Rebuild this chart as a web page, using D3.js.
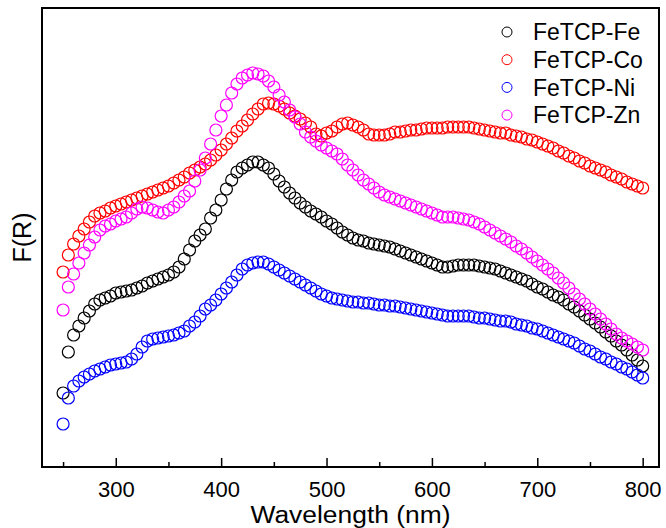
<!DOCTYPE html>
<html>
<head>
<meta charset="utf-8">
<script src="https://cdn.jsdelivr.net/npm/d3@7/dist/d3.min.js"></script>
<style>
  body { margin: 0; background: #fff; }
  text { font-family: "Liberation Sans", Arial, sans-serif; fill: #000; }
</style>
</head>
<body>
<div id="vis"></div>
<script>
// Data (F(R) in arbitrary units)
const WAVELENGTH = [250,255,260,265,270,275,280,285,290,295,300,305,310,315,320,325,330,335,340,345,
  350,355,360,365,370,375,380,385,390,395,400,405,410,415,420,425,430,435,440,445,
  450,455,460,465,470,475,480,485,490,495,500,505,510,515,520,525,530,535,540,545,
  550,555,560,565,570,575,580,585,590,595,600,605,610,615,620,625,630,635,640,645,
  650,655,660,665,670,675,680,685,690,695,700,705,710,715,720,725,730,735,740,745,
  750,755,760,765,770,775,780,785,790,795,800];

const FR_FE = [0.74,1.15,1.32,1.41,1.49,1.56,1.63,1.67,1.69,1.71,1.74,1.75,1.76,1.77,1.79,1.81,1.84,1.86,1.88,1.90,
  1.92,1.95,2.00,2.08,2.17,2.26,2.32,2.38,2.49,2.57,2.67,2.78,2.87,2.95,2.99,3.02,3.05,3.05,3.02,2.99,
  2.93,2.86,2.80,2.74,2.69,2.64,2.60,2.56,2.53,2.50,2.46,2.43,2.39,2.35,2.32,2.29,2.27,2.26,2.24,2.23,
  2.22,2.21,2.20,2.18,2.16,2.14,2.12,2.10,2.08,2.06,2.04,2.02,2.00,2.00,2.01,2.02,2.02,2.02,2.02,2.01,
  2.00,1.99,1.98,1.96,1.94,1.92,1.90,1.88,1.86,1.83,1.80,1.78,1.75,1.72,1.70,1.67,1.63,1.60,1.56,1.52,
  1.48,1.44,1.40,1.35,1.31,1.26,1.22,1.17,1.12,1.07,1.01];

const FR_CO = [1.95,2.12,2.23,2.31,2.38,2.45,2.51,2.54,2.56,2.59,2.61,2.63,2.65,2.67,2.69,2.71,2.73,2.75,2.77,2.79,
  2.81,2.84,2.87,2.90,2.94,2.97,3.00,3.03,3.07,3.12,3.17,3.23,3.29,3.36,3.41,3.47,3.53,3.58,3.63,3.64,
  3.63,3.61,3.58,3.54,3.51,3.48,3.44,3.40,3.33,3.31,3.34,3.36,3.40,3.43,3.44,3.42,3.40,3.37,3.33,3.32,
  3.32,3.32,3.33,3.35,3.35,3.36,3.37,3.37,3.38,3.39,3.39,3.39,3.39,3.40,3.40,3.40,3.40,3.40,3.39,3.38,
  3.37,3.36,3.35,3.34,3.34,3.32,3.31,3.30,3.28,3.27,3.25,3.23,3.21,3.19,3.16,3.14,3.11,3.09,3.06,3.04,
  3.01,2.99,2.97,2.95,2.92,2.90,2.88,2.85,2.83,2.81,2.79];

const FR_NI = [0.43,0.69,0.81,0.86,0.90,0.93,0.96,0.98,1.00,1.02,1.03,1.04,1.05,1.08,1.13,1.20,1.26,1.28,1.29,1.30,
  1.31,1.32,1.34,1.36,1.41,1.45,1.51,1.58,1.62,1.67,1.73,1.79,1.85,1.92,1.98,2.02,2.04,2.05,2.05,2.03,
  2.00,1.97,1.94,1.91,1.88,1.85,1.82,1.79,1.76,1.73,1.71,1.69,1.68,1.67,1.66,1.65,1.65,1.64,1.64,1.63,
  1.62,1.62,1.61,1.61,1.60,1.59,1.58,1.57,1.56,1.55,1.54,1.53,1.52,1.51,1.51,1.51,1.51,1.51,1.50,1.49,
  1.49,1.48,1.47,1.46,1.46,1.45,1.43,1.42,1.41,1.39,1.38,1.36,1.34,1.32,1.30,1.28,1.26,1.24,1.21,1.18,
  1.16,1.13,1.10,1.08,1.05,1.03,1.00,0.98,0.95,0.92,0.89];

const FR_ZN = [1.57,1.80,1.93,2.04,2.14,2.22,2.30,2.37,2.41,2.43,2.46,2.48,2.50,2.54,2.58,2.60,2.59,2.57,2.55,2.54,
  2.57,2.60,2.65,2.71,2.76,2.86,2.97,3.09,3.23,3.37,3.51,3.62,3.74,3.83,3.89,3.92,3.94,3.93,3.91,3.86,
  3.80,3.72,3.65,3.57,3.50,3.43,3.35,3.30,3.26,3.22,3.19,3.16,3.13,3.08,3.02,2.97,2.92,2.87,2.83,2.79,
  2.75,2.72,2.70,2.68,2.66,2.64,2.62,2.60,2.58,2.56,2.54,2.52,2.50,2.50,2.50,2.49,2.48,2.47,2.45,2.43,
  2.40,2.37,2.34,2.31,2.28,2.25,2.21,2.18,2.14,2.10,2.06,2.02,1.98,1.94,1.89,1.84,1.79,1.73,1.68,1.63,
  1.58,1.53,1.48,1.43,1.38,1.33,1.29,1.26,1.23,1.20,1.17];

const SERIES_NAMES = ["FeTCP-Fe", "FeTCP-Co", "FeTCP-Ni", "FeTCP-Zn"];
const SERIES_COLORS = ["#000000", "#ff0000", "#0000ff", "#ff00ff"];
const MAJOR_TICKS = [300, 400, 500, 600, 700, 800];
const MINOR_TICKS = [250, 350, 450, 550, 650, 750];

// Frame
const FRAME_WIDTH = 666;
const FRAME_HEIGHT = 528;
const MARGINS = { left: 42, right: 7, top: 8, bottom: 61 };
const VIS_WIDTH = FRAME_WIDTH - MARGINS.left - MARGINS.right;
const VIS_HEIGHT = FRAME_HEIGHT - MARGINS.top - MARGINS.bottom;

const FRAME = d3.select("#vis")
    .append("svg")
    .attr("width", FRAME_WIDTH)
    .attr("height", FRAME_HEIGHT);

const PLOT = FRAME.append("g")
    .attr("transform", "translate(" + MARGINS.left + "," + MARGINS.top + ")");

const X_SCALE = d3.scaleLinear()
    .domain([230, 815.5])
    .range([0, VIS_WIDTH]);

const Y_SCALE = d3.scaleLinear()
    .domain([0, 4.59])
    .range([VIS_HEIGHT, 0]);

// one entry per series
const ALL_SERIES = [FR_FE, FR_CO, FR_NI, FR_ZN].map((vals, i) => ({
    name: SERIES_NAMES[i],
    color: SERIES_COLORS[i],
    points: WAVELENGTH.map((w, j) => ({ x: w, y: vals[j] }))
}));

// open circle markers
ALL_SERIES.forEach((s) => {
    PLOT.append("g")
        .selectAll("circle")
        .data(s.points)
        .enter()
        .append("circle")
        .attr("cx", (d) => X_SCALE(d.x))
        .attr("cy", (d) => Y_SCALE(d.y))
        .attr("r", 6)
        .attr("fill", "none")
        .attr("stroke", s.color)
        .attr("stroke-width", 1.2);
});

// minor ticks
PLOT.append("g")
    .attr("transform", "translate(0," + VIS_HEIGHT + ")")
    .call(d3.axisBottom(X_SCALE).tickValues(MINOR_TICKS).tickSizeInner(-5).tickSizeOuter(0).tickFormat(""))
    .call((g) => g.select(".domain").remove())
    .selectAll("line").attr("stroke", "#000").attr("stroke-width", 1.5);

// major ticks + labels
const X_AXIS = PLOT.append("g")
    .attr("transform", "translate(0," + VIS_HEIGHT + ")")
    .call(d3.axisBottom(X_SCALE).tickValues(MAJOR_TICKS).tickSizeInner(-9).tickSizeOuter(0)
        .tickPadding(14).tickFormat(d3.format("d")));
X_AXIS.select(".domain").remove();
X_AXIS.selectAll("line").attr("stroke", "#000").attr("stroke-width", 1.5);
X_AXIS.selectAll("text")
    .attr("font-size", "22px")
    .attr("font-family", "Liberation Sans, Arial, sans-serif")
    .attr("fill", "#000");

// plot frame
PLOT.append("rect")
    .attr("x", 0)
    .attr("y", 0)
    .attr("width", VIS_WIDTH)
    .attr("height", VIS_HEIGHT)
    .attr("fill", "none")
    .attr("stroke", "#000")
    .attr("stroke-width", 2);

// axis titles
FRAME.append("text")
    .attr("x", MARGINS.left + VIS_WIDTH / 2)
    .attr("y", 523)
    .attr("text-anchor", "middle")
    .attr("font-size", "23px")
    .attr("textLength", 200)
    .attr("lengthAdjust", "spacingAndGlyphs")
    .text("Wavelength (nm)");

FRAME.append("text")
    .attr("transform", "translate(31," + (MARGINS.top + VIS_HEIGHT / 2) + ") rotate(-90)")
    .attr("text-anchor", "middle")
    .attr("font-size", "25px")
    .text("F(R)");

// legend
const LEGEND = FRAME.append("g")
    .attr("transform", "translate(507,32)");

ALL_SERIES.forEach((s, i) => {
    const row = LEGEND.append("g").attr("transform", "translate(0," + (i * 27.7) + ")");
    row.append("circle")
        .attr("r", 5)
        .attr("fill", "none")
        .attr("stroke", s.color)
        .attr("stroke-width", 1);
    row.append("text")
        .attr("x", 26)
        .attr("dy", "0.36em")
        .attr("font-size", "23px")
        .text(s.name);
});
</script>
</body>
</html>
